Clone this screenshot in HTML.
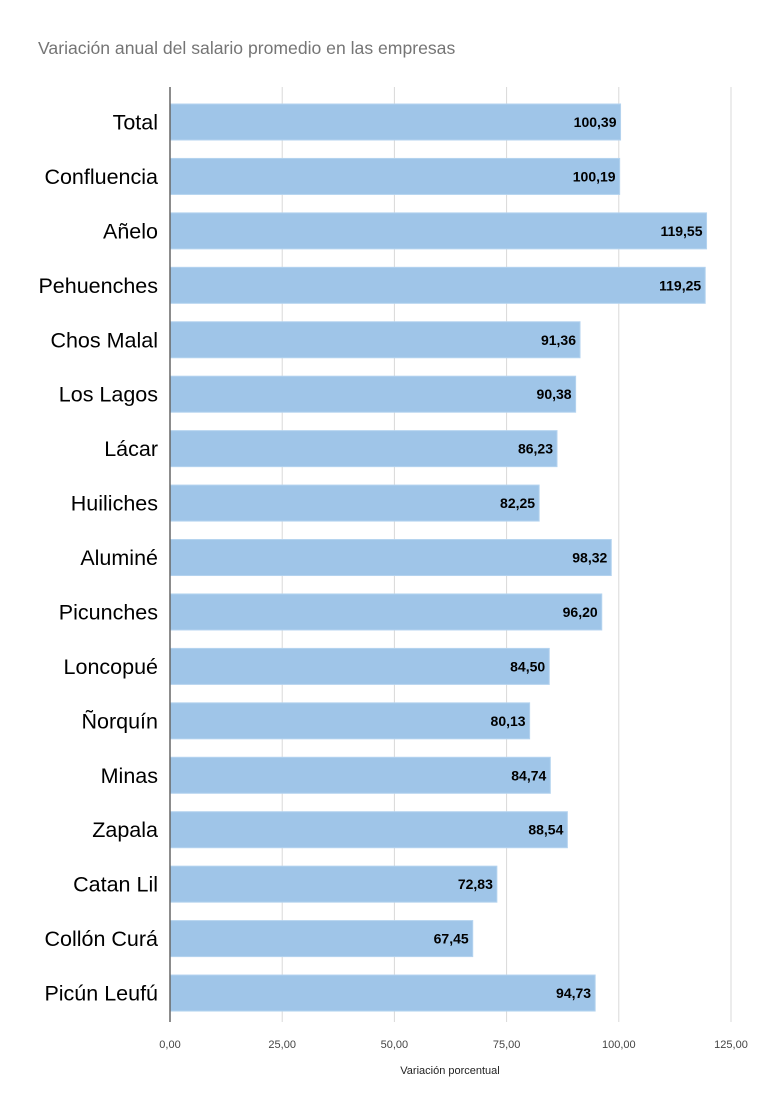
<!DOCTYPE html>
<html><head><meta charset="utf-8"><style>
body{margin:0;background:#fff}
svg text{font-family:"Liberation Sans",sans-serif}
</style></head><body>
<svg width="770" height="1115" viewBox="0 0 770 1115" xmlns="http://www.w3.org/2000/svg">
<rect width="770" height="1115" fill="#fff"/>
<text x="38" y="54" font-size="17.6" fill="#757575">Variación anual del salario promedio en las empresas</text>
<g stroke="#d9d9d9" stroke-width="1">
<line x1="282.2" y1="87" x2="282.2" y2="1022"/>
<line x1="394.4" y1="87" x2="394.4" y2="1022"/>
<line x1="506.6" y1="87" x2="506.6" y2="1022"/>
<line x1="618.8" y1="87" x2="618.8" y2="1022"/>
<line x1="731" y1="87" x2="731" y2="1022"/>
</g>
<g fill="#9fc5e8" stroke="#b4d3ef" stroke-width="1">
<rect x="170" y="104" width="450.55" height="36"/>
<rect x="170" y="158.44" width="449.65" height="36"/>
<rect x="170" y="212.88" width="536.54" height="36"/>
<rect x="170" y="267.32" width="535.19" height="36"/>
<rect x="170" y="321.76" width="410.02" height="36"/>
<rect x="170" y="376.2" width="405.63" height="36"/>
<rect x="170" y="430.64" width="387" height="36"/>
<rect x="170" y="485.08" width="369.14" height="36"/>
<rect x="170" y="539.52" width="441.26" height="36"/>
<rect x="170" y="593.96" width="431.75" height="36"/>
<rect x="170" y="648.4" width="379.24" height="36"/>
<rect x="170" y="702.84" width="359.62" height="36"/>
<rect x="170" y="757.28" width="380.31" height="36"/>
<rect x="170" y="811.72" width="397.37" height="36"/>
<rect x="170" y="866.16" width="326.86" height="36"/>
<rect x="170" y="920.6" width="302.72" height="36"/>
<rect x="170" y="975.04" width="425.15" height="36"/>
</g>
<g font-size="14" font-weight="bold" fill="#000" text-anchor="end">
<text x="616.5" y="127">100,39</text>
<text x="615.6" y="181.44">100,19</text>
<text x="702.5" y="235.88">119,55</text>
<text x="701.2" y="290.32">119,25</text>
<text x="576" y="344.76">91,36</text>
<text x="571.6" y="399.2">90,38</text>
<text x="553" y="453.64">86,23</text>
<text x="535.1" y="508.08">82,25</text>
<text x="607.3" y="562.52">98,32</text>
<text x="597.7" y="616.96">96,20</text>
<text x="545.2" y="671.4">84,50</text>
<text x="525.6" y="725.84">80,13</text>
<text x="546.3" y="780.28">84,74</text>
<text x="563.4" y="834.72">88,54</text>
<text x="492.9" y="889.16">72,83</text>
<text x="468.7" y="943.6">67,45</text>
<text x="591.1" y="998.04">94,73</text>
</g>
<g font-size="21.5" fill="#000" text-anchor="end">
<text x="158" y="129.5">Total</text>
<text x="158" y="183.94">Confluencia</text>
<text x="158" y="238.38">Añelo</text>
<text x="158" y="292.82">Pehuenches</text>
<text x="158" y="347.26">Chos Malal</text>
<text x="158" y="401.7">Los Lagos</text>
<text x="158" y="456.14">Lácar</text>
<text x="158" y="510.58">Huiliches</text>
<text x="158" y="565.02">Aluminé</text>
<text x="158" y="619.46">Picunches</text>
<text x="158" y="673.9">Loncopué</text>
<text x="158" y="728.34">Ñorquín</text>
<text x="158" y="782.78">Minas</text>
<text x="158" y="837.22">Zapala</text>
<text x="158" y="891.66">Catan Lil</text>
<text x="158" y="946.1">Collón Curá</text>
<text x="158" y="1000.54">Picún Leufú</text>
</g>
<line x1="170" y1="87" x2="170" y2="1022" stroke="#666" stroke-width="1.5"/>
<g font-size="11" fill="#444" text-anchor="middle">
<text x="170" y="1048">0,00</text><text x="282.2" y="1048">25,00</text><text x="394.4" y="1048">50,00</text><text x="506.6" y="1048">75,00</text><text x="618.8" y="1048">100,00</text><text x="731" y="1048">125,00</text>
</g>
<text x="450" y="1074" font-size="11" fill="#222" text-anchor="middle">Variación porcentual</text>
</svg>
</body></html>
